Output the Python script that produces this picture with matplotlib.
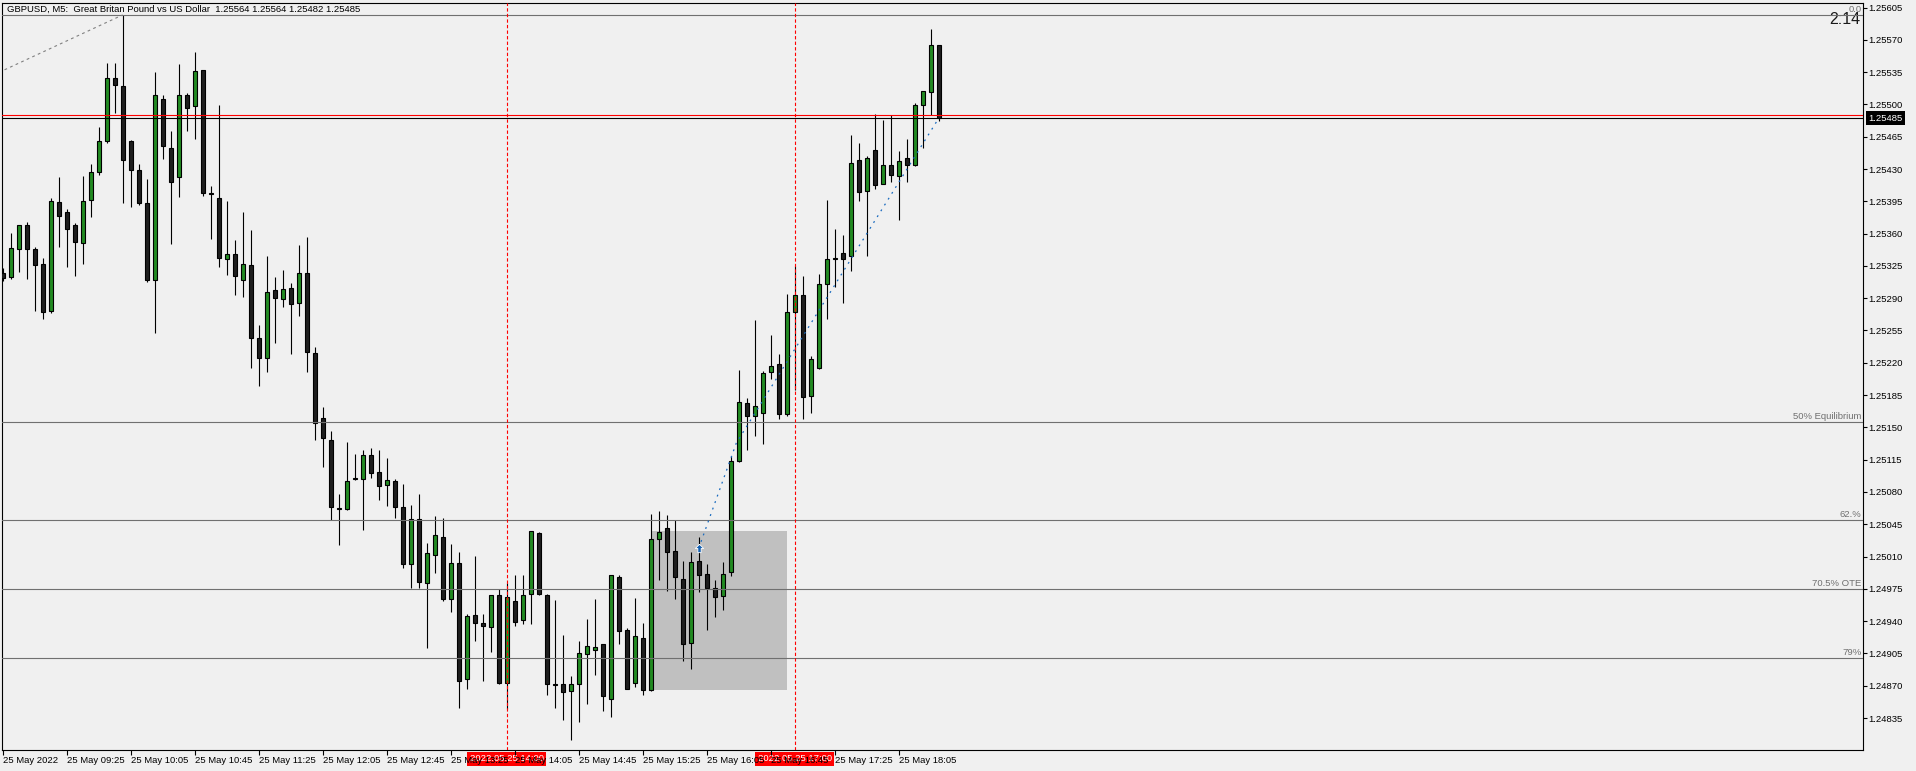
import numpy as np
import matplotlib
matplotlib.use("Agg")
import matplotlib.pyplot as plt
import matplotlib.transforms as mtransforms
from matplotlib.patches import Rectangle
from matplotlib.path import Path

plt.rcParams['font.family'] = ['Liberation Sans', 'DejaVu Sans']

# GBPUSD M5, 25 May 2022, candles from 08:45 to 18:30 (index 0 = 08:45)
opens = [1.25317, 1.25313, 1.25343, 1.25369, 1.25343, 1.25327, 1.25276, 1.25394, 1.25383, 1.25369,
         1.25350, 1.25396, 1.25427, 1.25460, 1.25529, 1.25520, 1.25460, 1.25429, 1.25393, 1.25310,
         1.25506, 1.25453, 1.25421, 1.25510, 1.25498, 1.25537, 1.25404, 1.25399, 1.25333, 1.25338,
         1.25310, 1.25326, 1.25247, 1.25225, 1.25299, 1.25289, 1.25301, 1.25285, 1.25317, 1.25231,
         1.25160, 1.25136, 1.25063, 1.25062, 1.25094, 1.25094, 1.25120, 1.25102, 1.25088, 1.25092,
         1.25064, 1.25002, 1.25051, 1.24981, 1.25012, 1.25031, 1.24964, 1.25003, 1.24877, 1.24947,
         1.24938, 1.24934, 1.24968, 1.24873, 1.24962, 1.24941, 1.24969, 1.25036, 1.24968, 1.24872,
         1.24872, 1.24864, 1.24872, 1.24904, 1.24909, 1.24915, 1.24856, 1.24988, 1.24930, 1.24873,
         1.24922, 1.24865, 1.25029, 1.25041, 1.25016, 1.24986, 1.24916, 1.25005, 1.24991, 1.24976,
         1.24967, 1.24993, 1.25114, 1.25176, 1.25162, 1.25166, 1.25210, 1.25219, 1.25165, 1.25275,
         1.25294, 1.25184, 1.25214, 1.25305, 1.25332, 1.25339, 1.25336, 1.25440, 1.25406, 1.25451,
         1.25414, 1.25434, 1.25422, 1.25442, 1.25434, 1.25499, 1.25513, 1.25564]
highs = [1.25323, 1.25361, 1.25369, 1.25373, 1.25345, 1.25334, 1.25399, 1.25421, 1.25387, 1.25371,
         1.25422, 1.25435, 1.25475, 1.25545, 1.25545, 1.25597, 1.25461, 1.25435, 1.25419, 1.25535,
         1.25510, 1.25471, 1.25544, 1.25512, 1.25557, 1.25537, 1.25412, 1.25499, 1.25395, 1.25353,
         1.25383, 1.25364, 1.25261, 1.25336, 1.25313, 1.25321, 1.25306, 1.25348, 1.25356, 1.25237,
         1.25172, 1.25146, 1.25078, 1.25134, 1.25121, 1.25125, 1.25128, 1.25125, 1.25117, 1.25094,
         1.25089, 1.25066, 1.25078, 1.25025, 1.25054, 1.25052, 1.25024, 1.25015, 1.24948, 1.25011,
         1.24948, 1.24968, 1.24975, 1.24981, 1.24990, 1.24990, 1.25038, 1.25037, 1.24969, 1.24963,
         1.24925, 1.24881, 1.24919, 1.24942, 1.24964, 1.24915, 1.24990, 1.24990, 1.24933, 1.24965,
         1.24938, 1.25056, 1.25059, 1.25055, 1.25050, 1.25005, 1.25015, 1.25031, 1.25002, 1.24985,
         1.25004, 1.25119, 1.25212, 1.25182, 1.25266, 1.25211, 1.25250, 1.25230, 1.25295, 1.25325,
         1.25314, 1.25227, 1.25316, 1.25396, 1.25365, 1.25358, 1.25467, 1.25458, 1.25444, 1.25490,
         1.25483, 1.25488, 1.25450, 1.25462, 1.25501, 1.25515, 1.25582, 1.25564]
lows = [1.25309, 1.25311, 1.25318, 1.25311, 1.25276, 1.25268, 1.25274, 1.25345, 1.25324, 1.25314,
        1.25327, 1.25378, 1.25424, 1.25458, 1.25491, 1.25393, 1.25389, 1.25391, 1.25308, 1.25252,
        1.25441, 1.25349, 1.25400, 1.25471, 1.25462, 1.25401, 1.25354, 1.25324, 1.25315, 1.25293,
        1.25291, 1.25214, 1.25195, 1.25210, 1.25241, 1.25281, 1.25230, 1.25271, 1.25210, 1.25136,
        1.25107, 1.25050, 1.25023, 1.25061, 1.25093, 1.25039, 1.25095, 1.25071, 1.25065, 1.25052,
        1.24998, 1.24976, 1.24976, 1.24911, 1.24992, 1.24962, 1.24950, 1.24846, 1.24866, 1.24919,
        1.24875, 1.24907, 1.24872, 1.24845, 1.24935, 1.24937, 1.24937, 1.24968, 1.24860, 1.24846,
        1.24833, 1.24811, 1.24831, 1.24850, 1.24882, 1.24843, 1.24836, 1.24915, 1.24867, 1.24869,
        1.24860, 1.24864, 1.24985, 1.24973, 1.24964, 1.24897, 1.24888, 1.24972, 1.24930, 1.24945,
        1.24952, 1.24989, 1.25112, 1.25125, 1.25141, 1.25132, 1.25202, 1.25159, 1.25162, 1.25191,
        1.25159, 1.25166, 1.25213, 1.25267, 1.25302, 1.25285, 1.25319, 1.25395, 1.25336, 1.25408,
        1.25414, 1.25416, 1.25375, 1.25416, 1.25433, 1.25453, 1.25488, 1.25482]
closes = [1.25312, 1.25344, 1.25369, 1.25343, 1.25326, 1.25275, 1.25395, 1.25379, 1.25365, 1.25351,
          1.25395, 1.25427, 1.25460, 1.25529, 1.25521, 1.25440, 1.25429, 1.25393, 1.25310, 1.25510,
          1.25455, 1.25416, 1.25510, 1.25496, 1.25536, 1.25404, 1.25403, 1.25334, 1.25338, 1.25314,
          1.25327, 1.25247, 1.25225, 1.25297, 1.25290, 1.25300, 1.25284, 1.25317, 1.25232, 1.25155,
          1.25138, 1.25064, 1.25062, 1.25092, 1.25095, 1.25120, 1.25101, 1.25087, 1.25093, 1.25064,
          1.25002, 1.25051, 1.24982, 1.25014, 1.25033, 1.24964, 1.25003, 1.24875, 1.24946, 1.24938,
          1.24935, 1.24968, 1.24873, 1.24966, 1.24939, 1.24968, 1.25038, 1.24969, 1.24872, 1.24871,
          1.24863, 1.24872, 1.24905, 1.24913, 1.24912, 1.24859, 1.24990, 1.24929, 1.24867, 1.24924,
          1.24865, 1.25029, 1.25037, 1.25015, 1.24988, 1.24915, 1.25004, 1.24990, 1.24976, 1.24966,
          1.24991, 1.25114, 1.25178, 1.25162, 1.25173, 1.25209, 1.25217, 1.25164, 1.25275, 1.25293,
          1.25183, 1.25224, 1.25305, 1.25332, 1.25334, 1.25332, 1.25437, 1.25405, 1.25442, 1.25413,
          1.25434, 1.25423, 1.25439, 1.25434, 1.25499, 1.25515, 1.25564, 1.25485]

tick_idx = [0, 8, 16, 24, 32, 40, 48, 56, 64, 72, 80, 88, 96, 104, 112]
tick_labels = ["25 May 2022", "25 May 09:25", "25 May 10:05", "25 May 10:45", "25 May 11:25",
               "25 May 12:05", "25 May 12:45", "25 May 13:25", "25 May 14:05", "25 May 14:45",
               "25 May 15:25", "25 May 16:05", "25 May 16:45", "25 May 17:25", "25 May 18:05"]
price_ticks = [1.24835, 1.24870, 1.24905, 1.24940, 1.24975, 1.25010, 1.25045, 1.25080, 1.25115,
               1.25150, 1.25185, 1.25220, 1.25255, 1.25290, 1.25325, 1.25360, 1.25395, 1.25430,
               1.25465, 1.25500, 1.25535, 1.25570, 1.25605]

# fibonacci retracement (anchor 1 is off screen to the left)
fib_idx = [-204, 15]
fib_price = [1.24715, 1.25597]
fib_levels = [0.0, 0.5, 0.62, 0.705, 0.79]
fib_names = ["0.0", "50% Equilibrium", "62.%", "70.5% OTE", "79%"]

# objects
zone_idx = [81, 98]
zone_price = [1.24865, 1.25038]
vline_idx = [63, 99]
vline_labels = ["2022.05.25 14:00", "2022.05.25 17:00"]
trade_idx = [87, 91.7, 117]
trade_price = [1.25019, 1.25133, 1.25485]
hline_price = 1.25488

title = "GBPUSD, M5:  Great Britan Pound vs US Dollar  1.25564 1.25564 1.25482 1.25485"
bg = '#f0f0f0'
fs = 6.8

fig = plt.figure(figsize=(19.16, 7.71), dpi=100, facecolor=bg)
ax = fig.add_axes([2 / 1916, 21 / 771, 1861 / 1916, 747 / 771])
ax.set_facecolor(bg)

o = np.array(opens)
h = np.array(highs)
l = np.array(lows)
c = np.array(closes)
x = np.arange(len(o))
fill = np.where(c >= o, '#228b22', '#1e1e1e')

# zone rectangle (background)
ax.add_patch(Rectangle((zone_idx[0], zone_price[0]), zone_idx[1] - zone_idx[0],
                       zone_price[1] - zone_price[0], facecolor='#c0c0c0', edgecolor='none', zorder=0.5))

# candles
ax.vlines(x, l, h, colors='black', linewidth=0.8, zorder=3)
ax.bar(x, np.maximum(np.abs(c - o), 0.000004), width=0.5, bottom=np.minimum(o, c),
       color=fill, edgecolor='black', linewidth=0.8, zorder=4)

# fibonacci
lo, hi = fib_price
for lev, name in zip(fib_levels, fib_names):
    p = hi - lev * (hi - lo)
    ax.axhline(p, color='#707070', linewidth=0.8, zorder=5)
    ax.annotate(name, xy=(1, p), xycoords=ax.get_yaxis_transform(), xytext=(-1, 2),
                textcoords='offset points', ha='right', va='baseline', fontsize=fs, color='#707070')
ax.plot(fib_idx, fib_price, color='#808080', linewidth=0.8, linestyle=(0, (2.5, 3)), zorder=5)

# horizontal lines
ax.axhline(hline_price, color='red', linewidth=0.8, zorder=6)
ax.axhline(closes[-1], color='black', linewidth=0.8, zorder=6)

# vertical lines
blend_x = mtransforms.blended_transform_factory(ax.transData, ax.transAxes)
for vi, vl in zip(vline_idx, vline_labels):
    ax.axvline(vi, color='red', linewidth=0.8, linestyle=(0, (3, 2)), zorder=6)
    ax.text(vi, -0.0117, vl, transform=blend_x, ha='center', va='center', color='white', fontsize=fs,
            bbox=dict(boxstyle='square,pad=0.25', fc='red', ec='none'), zorder=1, clip_on=False)

# trade line and buy arrow
ax.plot(trade_idx, trade_price, color='#1a6bbf', linewidth=0.9, linestyle=(0, (1.5, 4)), zorder=7)
arrow = Path([(0, 1), (1, 0), (0.4, 0), (0.4, -1), (-0.4, -1), (-0.4, 0), (-1, 0), (0, 1)])
ax.plot(trade_idx[0], trade_price[0], marker=arrow, markersize=6, color='#1560b0',
        markeredgecolor='white', markeredgewidth=0.6, zorder=8)

# price tags on right axis
blend_y = ax.get_yaxis_transform()
ax.add_patch(Rectangle((1 + 3 / 1861, hline_price - 0.000054), 37 / 1861, 0.000108,
                       transform=blend_y, facecolor='red', edgecolor='none', clip_on=False, zorder=6))
ax.annotate(f"{closes[-1]:.5f}", xy=(1, closes[-1]), xycoords=blend_y, xytext=(3.6, 0),
            textcoords='offset points', ha='left', va='center', color='white', fontsize=fs,
            bbox=dict(boxstyle='square,pad=0.25', fc='black', ec='none'), zorder=7, annotation_clip=False)

# texts inside the chart
ax.text(0.0027, 0.9916, title, transform=ax.transAxes, ha='left', va='center', fontsize=fs, color='black')
ax.text(0.9984, 0.9779, "2:14", transform=ax.transAxes, ha='right', va='center', fontsize=11.5,
        color='#1a1a1a')

# axes setup
ax.set_xlim(-0.0875, 232.54)
ax.set_ylim(1.248004, 1.256099)
ax.set_xticks(tick_idx)
ax.set_xticklabels(tick_labels, ha='left', fontsize=fs)
ax.yaxis.tick_right()
ax.set_yticks(price_ticks)
ax.set_yticklabels([f"{p:.5f}" for p in price_ticks], fontsize=fs)
ax.tick_params(axis='x', direction='out', length=3.6, width=0.8, pad=0.5, colors='black')
ax.tick_params(axis='y', direction='out', length=3, width=0.8, pad=1, colors='black')
for s in ax.spines.values():
    s.set_color('black')
    s.set_linewidth(0.8)

fig.savefig('out.png', dpi=100, facecolor=bg)
